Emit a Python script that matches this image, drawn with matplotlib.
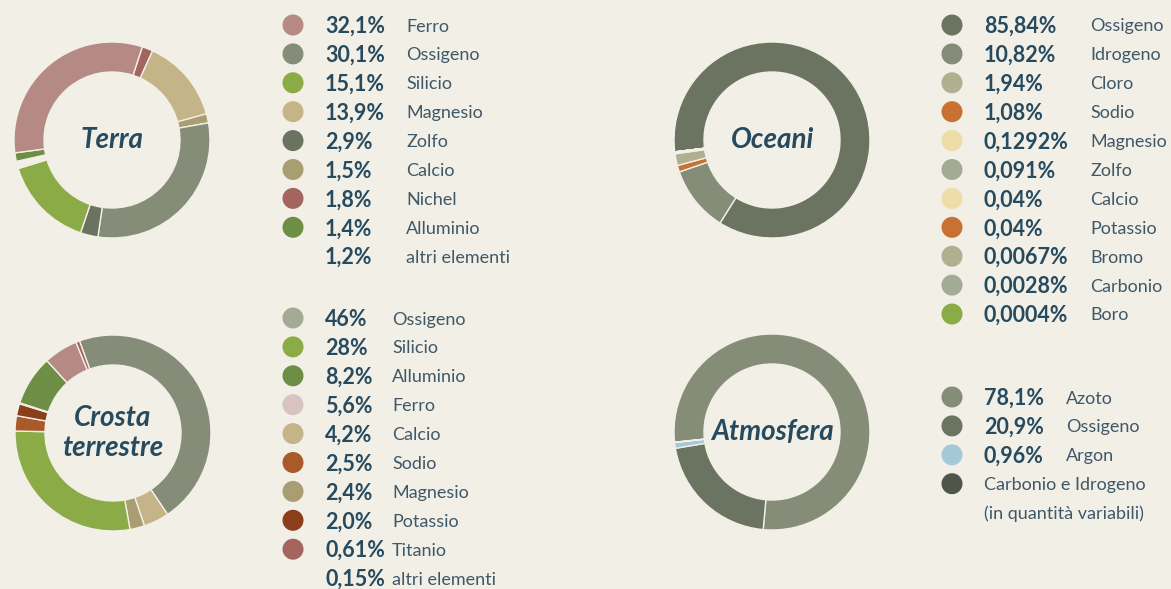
import matplotlib.pyplot as plt
from matplotlib.patches import Circle

plt.rcParams['font.family'] = ['Lato', 'DejaVu Sans']

# Dati: Terra
terra_names = ["Ferro", "Ossigeno", "Silicio", "Magnesio", "Zolfo", "Calcio", "Nichel", "Alluminio", "altri elementi"]
terra_labels = ["32,1%", "30,1%", "15,1%", "13,9%", "2,9%", "1,5%", "1,8%", "1,4%", "1,2%"]
terra_values = [32.1, 30.1, 15.1, 13.9, 2.9, 1.5, 1.8, 1.4, 1.2]
terra_colors = ["#b58a85", "#858d78", "#8aab45", "#c4b487", "#6b7360", "#a99d72", "#a5655f", "#6f8e45", None]
terra_order = ["Nichel", "Magnesio", "Calcio", "Ossigeno", "Zolfo", "Silicio", "altri elementi", "Alluminio", "Ferro"]

# Dati: Crosta terrestre
crosta_names = ["Ossigeno", "Silicio", "Alluminio", "Ferro", "Calcio", "Sodio", "Magnesio", "Potassio", "Titanio", "altri elementi"]
crosta_labels = ["46%", "28%", "8,2%", "5,6%", "4,2%", "2,5%", "2,4%", "2,0%", "0,61%", "0,15%"]
crosta_values = [46, 28, 8.2, 5.6, 4.2, 2.5, 2.4, 2.0, 0.61, 0.15]
crosta_colors = ["#a3ab94", "#8aab45", "#6f8e45", "#d9c2c2", "#c4b487", "#a85a28", "#a99d72", "#8a3e1a", "#a5655f", None]
crosta_wedge_colors = ["#858d78", "#8aab45", "#6f8e45", "#b58a85", "#c4b487", "#a85a28", "#a99d72", "#8a3e1a", "#a5655f", None]
crosta_order = ["Ossigeno", "Calcio", "Magnesio", "Silicio", "Sodio", "Potassio", "altri elementi", "Alluminio", "Ferro", "Titanio"]

# Dati: Oceani
oceani_names = ["Ossigeno", "Idrogeno", "Cloro", "Sodio", "Magnesio", "Zolfo", "Calcio", "Potassio", "Bromo", "Carbonio", "Boro"]
oceani_labels = ["85,84%", "10,82%", "1,94%", "1,08%", "0,1292%", "0,091%", "0,04%", "0,04%", "0,0067%", "0,0028%", "0,0004%"]
oceani_values = [85.84, 10.82, 1.94, 1.08, 0.1292, 0.091, 0.04, 0.04, 0.0067, 0.0028, 0.0004]
oceani_colors = ["#6b7461", "#858d78", "#b0b091", "#c97033", "#efdda8", "#a3ab94", "#efdda8", "#c97033", "#b0b091", "#a3ab94", "#8aab45"]
oceani_order = ["Ossigeno", "Idrogeno", "Sodio", "Cloro", "Magnesio", "Zolfo", "Calcio", "Potassio", "Bromo", "Carbonio", "Boro"]

# Dati: Atmosfera
atmo_names = ["Azoto", "Ossigeno", "Argon", "Carbonio e Idrogeno"]
atmo_labels = ["78,1%", "20,9%", "0,96%", ""]
atmo_values = [78.1, 20.9, 0.96, 0.04]
atmo_colors = ["#858d78", "#6b7461", "#a3c9d9", "#4f5649"]
atmo_order = ["Azoto", "Ossigeno", "Argon", "Carbonio e Idrogeno"]

BG = "#f2efe7"
DARK = "#264a5e"
GREY = "#3f5868"
W, H = 1171, 589

fig = plt.figure(figsize=(W / 100, H / 100), dpi=100, facecolor=BG)
ax = fig.add_axes([0, 0, 1, 1])
ax.set_facecolor(BG)


def donut(names, values, colors, order, cx, cy, start, title):
    vals = [values[names.index(n)] for n in order]
    cols = [colors[names.index(n)] for n in order]
    ax.pie(vals, colors=[c if c else BG for c in cols], center=(cx, H - cy), radius=98,
           startangle=90 - start, counterclock=False, frame=True,
           wedgeprops=dict(width=30, edgecolor=BG, linewidth=1))
    ax.text(cx, H - cy, title, ha="center", va="center", fontsize=20, fontstyle="italic",
            fontweight="bold", color=DARK, linespacing=1.15)


def legend(names, labels, colors, x, y0, xname, step=28.9):
    for i, (n, lab, c) in enumerate(zip(names, labels, colors)):
        y = H - (y0 + i * step)
        if c:
            ax.add_patch(Circle((x, y), 10.5, color=c, lw=0))
        ty = y - 1.5
        if lab:
            ax.text(x + 32, ty, lab, ha="left", va="center", fontsize=15.5, fontweight="bold", color=DARK)
            ax.text(xname, ty, n, ha="left", va="center", fontsize=13, color=GREY)
        else:
            ax.text(x + 32, ty, n, ha="left", va="center", fontsize=13, color=GREY)


donut(terra_names, terra_values, terra_colors, terra_order, 112, 140, 18, "Terra")
donut(crosta_names, crosta_values, crosta_wedge_colors, crosta_order, 113, 433, 340, "Crosta\nterrestre")
donut(oceani_names, oceani_values, oceani_colors, oceani_order, 772, 140, 263, "Oceani")
donut(atmo_names, atmo_values, atmo_colors, atmo_order, 772, 432, 264, "Atmosfera")

legend(terra_names, terra_labels, terra_colors, 293, 25, 406)
legend(crosta_names, crosta_labels, crosta_colors, 293, 318, 392)
legend(oceani_names, oceani_labels, oceani_colors, 952, 25, 1090)
legend(atmo_names, atmo_labels, atmo_colors, 952, 397, 1066)
ax.text(984, H - 512 - 1.5, "(in quantità variabili)", ha="left", va="center", fontsize=13, color=GREY)

ax.set_xlim(0, W)
ax.set_ylim(0, H)
ax.set_aspect("equal")
ax.set_axis_off()

fig.savefig("out.png", dpi=100, facecolor=BG)
